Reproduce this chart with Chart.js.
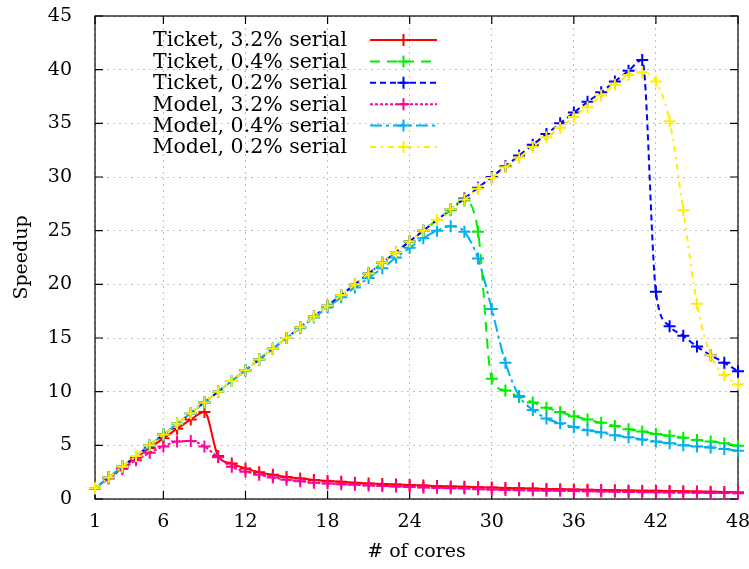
<!DOCTYPE html>
<html>
<head>
<meta charset="utf-8">
<script src="https://cdn.jsdelivr.net/npm/chart.js@4.4.1/dist/chart.umd.min.js"></script>
<style>
  html, body { margin: 0; padding: 0; background: #fff; }
  #wrap { width: 749px; height: 569px; }
</style>
</head>
<body>
<div id="wrap"><canvas id="speedupChart" width="749" height="569"></canvas></div>
<script>
// x values (number of cores) and tick labels
const cores = [1,2,3,4,5,6,7,8,9,10,11,12,13,14,15,16,17,18,19,20,21,22,23,24,
               25,26,27,28,29,30,31,32,33,34,35,36,37,38,39,40,41,42,43,44,45,46,47,48];
const xTicks = [1, 6, 12, 18, 24, 30, 36, 42, 48];

// speedup
const ticket32 = [1,1.97,2.92,3.85,4.75,5.65,6.55,7.4,8.1,4.0,3.3,2.85,2.5,2.25,2.05,1.9,1.78,1.68,1.6,1.52,
                  1.45,1.4,1.34,1.3,1.25,1.21,1.17,1.13,1.1,1.06,1.03,1.0,0.97,0.94,0.91,0.88,0.86,0.84,0.82,0.8,
                  0.78,0.76,0.74,0.72,0.7,0.68,0.66,0.63];
const ticket04 = [1,2,3,4,5,6,7,8,9,10,11,12,13,14,15,16,17,18,19,20,21,22,23,24,25,26,26.9,27.8,24.9,11.2,
                  10.1,9.5,9.0,8.5,8.1,7.7,7.4,7.1,6.8,6.5,6.3,6.05,5.9,5.7,5.5,5.35,5.2,4.95];
const ticket02 = [1,2,3,4,5,6,7,8,9,10,11,12,13,14,15,16,17,18,19,20,21,22,23,24,25,26,27,28,29,30,
                  31,32,33,34,35,36,37,37.9,38.9,39.9,40.9,19.3,16.1,15.2,14.2,13.4,12.7,11.9];
const model32 = [1,1.9,2.8,3.6,4.3,4.9,5.35,5.4,4.9,3.9,3.0,2.55,2.25,2.0,1.8,1.65,1.52,1.45,1.38,1.32,
                 1.26,1.21,1.16,1.12,1.08,1.04,1.01,0.98,0.92,0.88,0.85,0.82,0.8,0.78,0.76,0.74,0.72,0.7,0.68,0.66,
                 0.64,0.62,0.61,0.6,0.58,0.57,0.56,0.54];
const model04 = [1,2,3,4,5,6,7,8,9,10,11,12,13,14,15,15.9,16.9,17.85,18.8,19.7,20.6,21.5,22.5,23.4,24.3,25.0,25.4,24.9,22.4,17.7,
                 12.7,9.6,8.3,7.5,7.05,6.7,6.4,6.2,5.95,5.75,5.55,5.35,5.2,5.0,4.9,4.8,4.65,4.5];
const model02 = [1,2,3,4,5,6,7,8,9,10,11,12,13,14,15,16,17,18,19,20,21,22,23,24,25,26,27,27.9,28.9,29.9,
                 30.9,31.8,32.8,33.7,34.6,35.6,36.5,37.6,38.6,39.5,39.75,38.9,35.2,26.9,18.2,13.4,11.55,10.7];

const seriesNames = ['Ticket, 3.2% serial', 'Ticket, 0.4% serial', 'Ticket, 0.2% serial',
                     'Model, 3.2% serial', 'Model, 0.4% serial', 'Model, 0.2% serial'];
const seriesData = [ticket32, ticket04, ticket02, model32, model04, model02];
const seriesColors = ['#ff0000', '#00ee00', '#0000ff', '#ff0099', '#00b0ee', '#ffee00'];
const seriesDash = [[], [10, 7], [6, 4], [3, 2], [12, 4, 3, 4], [6, 5, 2, 5]];

const FONT = 'DejaVu Serif';

// gnuplot-like frame with inward (and mirrored) ticks
const framePlugin = {
    id: 'frame',
    beforeDatasetsDraw(chart) {
        const {ctx, chartArea: a, scales} = chart;
        ctx.save();
        ctx.strokeStyle = '#000';
        ctx.lineWidth = 1.2;
        ctx.strokeRect(a.left, a.top, a.right - a.left, a.bottom - a.top);
        const tl = 8;
        ctx.beginPath();
        xTicks.forEach(v => {
            const px = scales.x.getPixelForValue(v);
            ctx.moveTo(px, a.bottom); ctx.lineTo(px, a.bottom - tl);
            ctx.moveTo(px, a.top); ctx.lineTo(px, a.top + tl);
        });
        scales.y.ticks.forEach(t => {
            const py = scales.y.getPixelForValue(t.value);
            ctx.moveTo(a.left, py); ctx.lineTo(a.left + tl, py);
            ctx.moveTo(a.right, py); ctx.lineTo(a.right - tl, py);
        });
        ctx.stroke();
        ctx.restore();
    }
};

// key: text right-aligned, sample line on the right
const keyPlugin = {
    id: 'key',
    afterDatasetsDraw(chart) {
        const {ctx, chartArea: a} = chart;
        ctx.save();
        ctx.font = '20.5px "' + FONT + '"';
        ctx.textAlign = 'right';
        ctx.textBaseline = 'middle';
        chart.data.datasets.forEach((ds, i) => {
            const y = a.top + 24 + i * 21.4;
            ctx.fillStyle = '#000';
            ctx.fillText(ds.label, a.left + 252, y + 1);
            const x0 = a.left + 275, x1 = a.left + 342, xm = (x0 + x1) / 2;
            ctx.strokeStyle = ds.borderColor;
            ctx.lineWidth = 2;
            ctx.setLineDash(ds.borderDash);
            ctx.beginPath(); ctx.moveTo(x0, y); ctx.lineTo(x1, y); ctx.stroke();
            ctx.setLineDash([]);
            ctx.beginPath();
            ctx.moveTo(xm - 6, y); ctx.lineTo(xm + 6, y);
            ctx.moveTo(xm, y - 6); ctx.lineTo(xm, y + 6);
            ctx.stroke();
        });
        ctx.restore();
    }
};

Chart.defaults.font.family = FONT;
Chart.defaults.font.size = 19;
Chart.defaults.color = '#000';

const ctx = document.getElementById('speedupChart').getContext('2d');
new Chart(ctx, {
    type: 'line',
    data: {
        labels: cores,
        datasets: seriesData.map((vals, i) => ({
            label: seriesNames[i],
            data: cores.map((c, j) => ({x: c, y: vals[j]})),
            borderColor: seriesColors[i],
            backgroundColor: seriesColors[i],
            borderDash: seriesDash[i],
            borderWidth: 2,
            pointStyle: 'cross',
            pointRadius: 6,
            pointBorderWidth: 2,
            pointBorderColor: seriesColors[i],
            cubicInterpolationMode: 'monotone',
            fill: false,
            clip: false,
            order: 5 - i
        }))
    },
    options: {
        responsive: false,
        animation: false,
        layout: { padding: { top: 16, right: 11, left: 0, bottom: 0 } },
        plugins: {
            legend: { display: false },
            tooltip: { enabled: false }
        },
        scales: {
            x: {
                type: 'linear',
                min: 1,
                max: 48,
                afterBuildTicks: axis => { axis.ticks = xTicks.map(v => ({value: v})); },
                afterFit: s => { s.height = 70; s.paddingLeft = 0; s.paddingRight = 0; },
                ticks: { padding: 12, maxRotation: 0, autoSkip: false },
                grid: { color: '#bdbdbd', lineWidth: 1, drawTicks: false },
                border: { display: false, dash: [2, 4] },
                title: { display: true, text: '# of cores', padding: { top: 0, bottom: 6 } }
            },
            y: {
                min: 0,
                max: 45,
                ticks: { stepSize: 5, padding: 23 },
                afterFit: s => { s.width = 95; s.paddingTop = 0; s.paddingBottom = 0; },
                grid: { color: '#bdbdbd', lineWidth: 1, drawTicks: false },
                border: { display: false, dash: [2, 4] },
                title: { display: true, text: 'Speedup', padding: { top: 11, bottom: 0 } }
            }
        }
    },
    plugins: [framePlugin, keyPlugin]
});
</script>
</body>
</html>
